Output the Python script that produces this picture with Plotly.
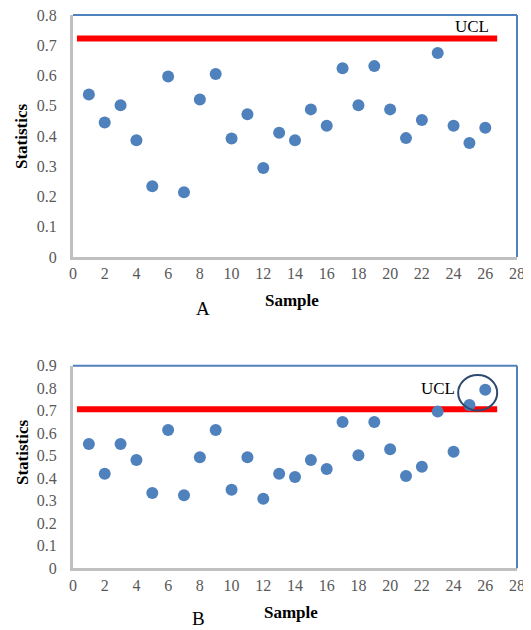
import plotly.graph_objects as go

# page body has an ~8px default margin, so the figure is placed at (8, 8)
OFF = 8
W, H = 531 - OFF, 630 - OFF

samples = list(range(1, 27))
stat_a = [0.537, 0.445, 0.502, 0.386, 0.234, 0.597, 0.214, 0.521, 0.605, 0.392,
          0.472, 0.294, 0.411, 0.386, 0.488, 0.434, 0.624, 0.502, 0.631, 0.488,
          0.393, 0.453, 0.674, 0.434, 0.377, 0.427]
stat_b = [0.552, 0.420, 0.552, 0.481, 0.334, 0.614, 0.324, 0.493, 0.614, 0.349,
          0.493, 0.309, 0.420, 0.406, 0.481, 0.441, 0.650, 0.502, 0.650, 0.529,
          0.410, 0.451, 0.696, 0.518, 0.725, 0.793]
ucl_a = 0.722
ucl_b = 0.707
ucl_x = [0.25, 26.75]
x_ticks = list(range(0, 29, 2))
y_ticks_a = [0, 0.1, 0.2, 0.3, 0.4, 0.5, 0.6, 0.7, 0.8]
y_ticks_b = [0, 0.1, 0.2, 0.3, 0.4, 0.5, 0.6, 0.7, 0.8, 0.9]
y_labels_a = ["0", "0.1", "0.2", "0.3", "0.4", "0.5", "0.6", "0.7", "0.8"]
y_labels_b = ["0", "0.1", "0.2", "0.3", "0.4", "0.5", "0.6", "0.7", "0.8", "0.9"]

MARKER = "#4F81BD"
SERIF = "Liberation Serif"

def px(x):
    return (x - OFF) / W

def py(y):
    return 1 - (y - OFF) / H

fig = go.Figure()

# Panel A
fig.add_trace(go.Scatter(x=ucl_x, y=[ucl_a, ucl_a], mode="lines",
                         line=dict(color="#FF0000", width=6), xaxis="x", yaxis="y",
                         showlegend=False, hoverinfo="skip"))
fig.add_trace(go.Scatter(x=samples, y=stat_a, mode="markers",
                         marker=dict(color=MARKER, size=12), xaxis="x", yaxis="y",
                         showlegend=False))
# Panel B
fig.add_trace(go.Scatter(x=ucl_x, y=[ucl_b, ucl_b], mode="lines",
                         line=dict(color="#FF0000", width=6), xaxis="x2", yaxis="y2",
                         showlegend=False, hoverinfo="skip"))
fig.add_trace(go.Scatter(x=samples, y=stat_b, mode="markers",
                         marker=dict(color=MARKER, size=12), xaxis="x2", yaxis="y2",
                         showlegend=False))

xdom = [px(73), px(517)]
ydom_a = [py(257), py(15)]
ydom_b = [py(568.3), py(365.7)]

tickfont = dict(family=SERIF, size=16, color="#595959")
axis_common = dict(showgrid=False, zeroline=False, showline=True, linecolor="#C0C0C0",
                   linewidth=3, ticks="", tickfont=tickfont, automargin=False,
                   ticklabeloverflow="allow")

fig.update_layout(
    width=W, height=H,
    margin=dict(l=0, r=0, t=0, b=0),
    paper_bgcolor="white", plot_bgcolor="white",
    xaxis=dict(domain=xdom, range=[0, 28], tickvals=x_ticks, anchor="y",
               ticklabelstandoff=0, **axis_common),
    yaxis=dict(domain=ydom_a, range=[0, 0.8], tickvals=y_ticks_a, ticktext=y_labels_a,
               anchor="x", ticklabelstandoff=10, **axis_common),
    xaxis2=dict(domain=xdom, range=[0, 28], tickvals=x_ticks, anchor="y2",
                ticklabelstandoff=0, **axis_common),
    yaxis2=dict(domain=ydom_b, range=[0, 0.9], tickvals=y_ticks_b, ticktext=y_labels_b,
                anchor="x2", ticklabelstandoff=10, **axis_common),
)

shapes = []
for xr, yr in [("x", "y"), ("x2", "y2")]:
    shapes.append(dict(type="line", xref=f"{xr} domain", yref=f"{yr} domain",
                       x0=0, x1=1, y0=1, y1=1, line=dict(color="#4F81BD", width=2)))
    shapes.append(dict(type="line", xref=f"{xr} domain", yref=f"{yr} domain",
                       x0=1, x1=1, y0=0, y1=1, line=dict(color="#4F81BD", width=2)))
# circle highlighting out-of-control points in B
circle_center = (25.52, 0.78)
circle_r = (1.23, 0.079)
shapes.append(dict(type="circle", xref="x2", yref="y2",
                   x0=circle_center[0] - circle_r[0], x1=circle_center[0] + circle_r[0],
                   y0=circle_center[1] - circle_r[1], y1=circle_center[1] + circle_r[1],
                   line=dict(color="#2E4A6E", width=2)))
fig.update_layout(shapes=shapes)

title_font = dict(family=SERIF, size=17, color="black")
big_font = dict(family=SERIF, size=19, color="black")
ucl_font = dict(family=SERIF, size=17, color="black")

def paper_text(text, x, y, font, angle=0):
    return dict(text=text, x=px(x), y=py(y), xref="paper", yref="paper",
                xanchor="center", yanchor="middle", showarrow=False,
                textangle=angle, font=font)

ann = [
    paper_text("<b>Statistics</b>", 22, 136, title_font, -90),
    paper_text("<b>Statistics</b>", 22, 452, title_font, -90),
    paper_text("<b>Sample</b>", 292, 300, title_font),
    paper_text("<b>Sample</b>", 291, 612, title_font),
    paper_text("A", 203, 309, big_font),
    paper_text("B", 198, 618, big_font),
    dict(text="UCL", x=26.35, y=0.762, xref="x", yref="y", xanchor="right",
         yanchor="middle", showarrow=False, font=ucl_font),
    dict(text="UCL", x=24.2, y=0.80, xref="x2", yref="y2", xanchor="right",
         yanchor="middle", showarrow=False, font=ucl_font),
]
fig.update_layout(annotations=ann)

fig.write_html("out.html")
